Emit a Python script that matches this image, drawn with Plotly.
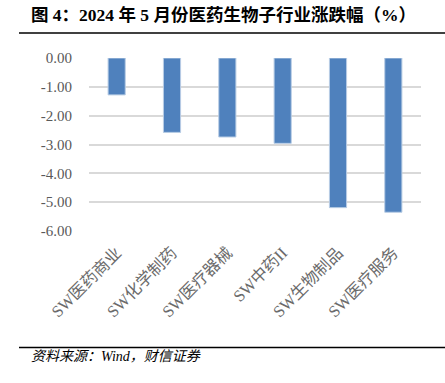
import plotly.graph_objects as go

categories = ["SW医药商业", "SW化学制药", "SW医疗器械", "SW中药II", "SW生物制品", "SW医疗服务"]
values = [-1.28, -2.58, -2.74, -2.96, -5.19, -5.35]
y_ticks = [0, -1, -2, -3, -4, -5, -6]
y_tick_labels = ["0.00", "-1.00", "-2.00", "-3.00", "-4.00", "-5.00", "-6.00"]

title_text = "图 4：2024 年 5 月份医药生物子行业涨跌幅（%）"
source_text = "资料来源：Wind，财信证券"

SERIF = "Liberation Serif, Times New Roman, Noto Sans CJK SC, serif"

PL, PT, PW, PH = 89, 58.3, 332, 172.4

fig = go.Figure()
fig.add_trace(go.Bar(
    x=categories,
    y=values,
    marker=dict(color="#4F81BD", line=dict(color="#B9CDE5", width=1)),
    width=0.31,
))

def px_x(x):
    return (x - PL) / PW

def px_y(y):
    return 1 - (y - PT) / PH

fig.update_layout(
    width=445,
    height=383,
    margin=dict(l=PL, r=445 - PL - PW, t=PT, b=383 - PT - PH, autoexpand=False),
    paper_bgcolor="white",
    plot_bgcolor="white",
    showlegend=False,
    font=dict(family=SERIF, color="#595959"),
    xaxis=dict(
        tickangle=-45,
        tickfont=dict(size=16.5, family=SERIF, color="#6B6B6B"),
        showgrid=False,
        showline=False,
        ticks="",
        ticklabelstandoff=8,
        automargin=False,
    ),
    yaxis=dict(
        range=[-6, 0],
        tickvals=y_ticks,
        ticktext=y_tick_labels,
        tickfont=dict(size=15, family=SERIF, color="#595959"),
        showgrid=True,
        gridcolor="#D9D9D9",
        gridwidth=1.5,
        zeroline=False,
        showline=False,
        ticks="",
        ticklabelstandoff=16,
        automargin=False,
    ),
    shapes=[
        dict(type="line", xref="paper", yref="paper", x0=px_x(19), x1=px_x(445),
             y0=px_y(33.5), y1=px_y(33.5),
             line=dict(color="#000000", width=1.5)),
        dict(type="line", xref="paper", yref="paper", x0=px_x(19), x1=px_x(445),
             y0=px_y(346.7), y1=px_y(346.7),
             line=dict(color="#000000", width=1.5)),
    ],
    annotations=[
        dict(text="<b>" + title_text + "</b>", xref="paper", yref="paper",
             x=px_x(29), y=px_y(15), xanchor="left", yanchor="middle",
             showarrow=False, font=dict(size=17.5, color="#000000", family=SERIF)),
        dict(text="<i>" + source_text + "</i>", xref="paper", yref="paper",
             x=px_x(29), y=px_y(356), xanchor="left", yanchor="middle",
             showarrow=False, font=dict(size=14, color="#000000", family=SERIF)),
    ],
)

fig.write_html(
    "out.html",
    config={"displayModeBar": False},
    post_script="document.body.style.margin='0';document.body.style.overflow='hidden';",
)
